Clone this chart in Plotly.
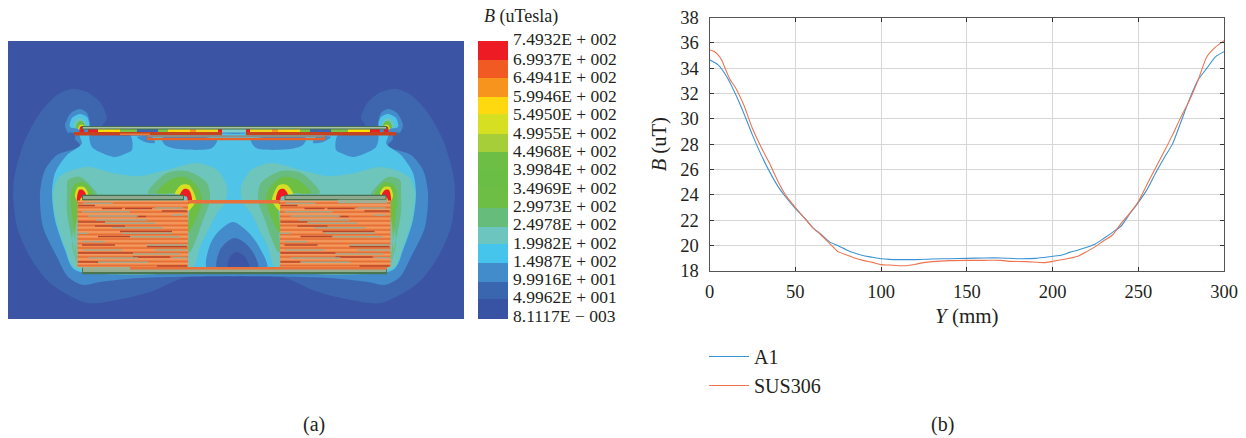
import plotly.graph_objects as go

SERIF = "Liberation Serif"

# ---------- panel (b) data ----------
a1_x = [0,5,10,15,20,25,30,35,40,45,50,55,60,65,70,75,80,85,90,95,100,105,110,120,130,140,150,160,170,180,190,200,205,210,215,220,225,230,235,240,245,250,255,260,265,270,275,280,285,290,295,300]
a1_y = [34.66,34.26,33.34,32.0,30.45,28.74,27.2,25.84,24.66,23.74,22.95,22.24,21.45,20.9,20.3,20.0,19.66,19.4,19.2,19.08,18.97,18.92,18.9,18.9,18.95,18.97,19.0,19.03,19.03,18.97,19.0,19.16,19.24,19.47,19.66,19.87,20.13,20.58,21.05,21.55,22.5,23.4,24.4,25.7,26.9,28.03,29.8,31.6,33.1,34.0,34.9,35.3]
sus_x = [0,3,5,7,10,12,15,20,25,30,35,40,45,50,55,60,65,70,75,80,85,90,95,100,105,110,115,120,125,130,140,150,160,170,175,185,195,200,210,215,220,225,230,235,240,245,250,255,260,265,270,275,280,285,290,295,300]
sus_y = [35.45,35.3,35.05,34.66,33.7,33.1,32.5,31.1,29.26,27.8,26.5,25.05,23.87,23.03,22.24,21.45,20.84,20.18,19.53,19.26,19.0,18.82,18.68,18.5,18.47,18.42,18.42,18.53,18.66,18.74,18.82,18.84,18.84,18.84,18.76,18.74,18.66,18.76,19.0,19.18,19.53,19.92,20.4,20.84,21.76,22.55,23.47,24.8,26.1,27.4,28.74,30.18,31.5,33.1,34.9,35.66,36.18]
x_ticks = [0,50,100,150,200,250,300]
y_ticks = [18,20,22,24,26,28,30,32,34,36,38]

# ---------- colour legend of panel (a) ----------
scale_labels = ["7.4932E + 002","6.9937E + 002","6.4941E + 002","5.9946E + 002","5.4950E + 002","4.9955E + 002","4.4968E + 002","3.9984E + 002","3.4969E + 002","2.9973E + 002","2.4978E + 002","1.9982E + 002","1.4987E + 002","9.9916E + 001","4.9962E + 001","8.1117E \u2212 003"]
scale_label_pos = [39,58.5,76.5,95.5,113.5,132.5,150.5,169,187.5,205.5,224,242.5,261,279,297,315.5]
scale_edges = [41.3,60,78,96.7,114,134,152,170,188,208,226.7,244.3,263,281.7,299.3,318.8]
scale_colors = ["#ED1C24","#F15A22","#F7941D","#FFD90F","#D7DF23","#A6CE39","#6DBE45","#6ABD45","#6DBE45","#65BC7B","#6CC5BF","#45C5EC","#438CCB","#3A66AF","#3953A4"]

# ---------- field regions of panel (a), picture units ----------
C_BG, C_B2, C_B3, C_CY, C_TE, C_GT, C_GR, C_YE, C_RE = "#3B54A4","#3D66AE","#438BCA","#4FC3E8","#6DC5BB","#68BC80","#6CBE45","#D7DF23","#ED1C24"
CENTRE = 234.0

band2_left = [(234,126),(103,126),(107,118),(100,102),(87,92),(72,89),(57,95),(40,113),(25,140),(15,173),(13,193),(17,227),(30,257),(50,283),(87,303),(117,300),(150,292),(187,277),(234,277)]
band3_left = [(234,128),(90,127),(90,123),(87,113),(80,109),(71,113),(65,125),(68,133),(80,145),(77,148),(57,155),(45,170),(40,193),(43,227),(57,257),(68,277),(83,285),(100,282),(140,278),(234,276)]
cyan_left = [(234,134),(80,134),(82,143),(80,146),(67,155),(55,173),(52,193),(55,220),(65,250),(75,270),(234,270)]
teal_left = [(53,193),(58,178),(72,170),(90,167),(113,173),(140,176),(167,170),(197,163),(217,170),(227,187),(225,203),(217,213),(210,227),(200,247),(192,268),(75,268),(65,247),(56,220)]
gt_outer = [(67,193),(68,180),(80,177),(92,187),(97,195),(78,215),(72,243),(77,263),(67,213)]
gt_inner = [(148,193),(167,173),(187,171),(207,183),(210,200),(203,220),(197,237),(190,252),(188,252),(188,195)]
gr_outer = [(71,193),(75,184),(83,182),(90,188),(93,195),(78,215),(75,247),(77,260),(72,213)]
gr_inner = [(157,193),(170,180),(185,177),(198,187),(202,200),(197,217),(188,233),(188,195)]
ye_outer = [(75,196),(78,187),(84,187),(88,194),(79,203)]
ye_inner = [(175,194),(181,185),(189,185),(194,193),(196,201),(188,211),(188,195)]
re_outer = [(77,201),(79,190),(83,190),(86,195),(81,198),(79,203)]
re_inner = [(180,195),(184,189),(189,190),(192,200),(188,204),(187,197)]
arch3 = [(207,268),(210,245),(218,232),(233,222),(248,232),(258,245),(267,268)]
arch2 = [(217,268),(220,250),(228,241),(235,238),(245,243),(254,254),(258,268)]
arch1 = [(228,268),(230,257),(236,252),(245,257),(249,268)]
blob_cy = [(70,127),(72,118),(80,114),(87,117),(89,127)]
blob_te = [(74,127),(76,120),(80,118),(85,121),(86,127)]
blob_gr = [(76,128),(78,122),(82,121),(85,127)]
blob_ye = [(78,129),(80,125),(83,125),(84,130)]
blob_re = [(80,133),(80,127),(83,126),(84,132)]
spot = [(68,133),(74,133),(75,139),(70,140)]
patch_a = [(90,135),(92,147),(102,153),(115,157),(127,153),(132,150),(130,135)]
patch_b = [(137,137),(145,142),(155,143),(152,137)]
patch_c = [(162,138),(165,145),(178,149),(212,148),(217,140)]

# ---------- structure of panel (a): y, x start, x end ----------
coil_left, coil_right = 77.5, 188.0
coil_shift = 202.5
coil_top, coil_bottom = 200.5, 267.0
rows_deep = [203,207.5,212,216.5,221,225.5,230,234.5,239,243.5,248,252.5,257,261.5,265.5]
rows_light = [201.5,205,209.5,214,218.5,223,227.5,232,236.5,241,245.5,250,254.5,259,263.5]
dark_seg = [(205.5,78,95),(208.5,125,152),(208.5,102,122),(211,162,187),(216.5,136,146),(222,78,105),(226,95,125),(231.5,120,172),(236.5,98,130),(245,82,115),(246.5,147,187),(253,78,133),(257,133,170),(262,78,98),(266,157,187)]
grey_seg = [(203.3,83,113),(208,155,183),(211.7,82,130),(215,172,183),(216,88,138),(220,96,147),(223.3,105,155),(227.7,112,163),(233.3,78,88),(233.3,122,172),(236.7,130,180),(241.7,82,105),(245,147,187),(250,83,122),(250,155,187),(254,133,180),(257.7,172,187),(258,88,138),(262.3,98,148)]
gap_seg = [(88,98,"#ED1C24"),(98,120,"#FFE000"),(120,137,"#7DC242"),(137,158,"#3D66AE"),(158,168,"#7DC242"),(168,190,"#FFD90F"),(190,196,"#F7941D"),(196,218,"#F2D51F"),(218,222,"#ED1C24")]

def closed(points):
    return [p[0] for p in points] + [points[0][0]], [p[1] for p in points] + [points[0][1]]

def mirror(points):
    return [(2 * CENTRE - x, y) for x, y in points]

def both_sides(points):
    return points + mirror(points)[::-1]

fig = go.Figure()

def poly(points, color, smooth=0.8):
    xs, ys = closed(points)
    line = dict(width=0, color=color, shape="spline", smoothing=smooth) if smooth else dict(width=0, color=color)
    fig.add_trace(go.Scatter(x=xs, y=ys, xaxis="x2", yaxis="y2", mode="lines", fill="toself", fillcolor=color,
                             line=line, showlegend=False, hoverinfo="skip"))

def strip(y, x0, x1, width, color):
    fig.add_trace(go.Scatter(x=[x0, x1], y=[y, y], xaxis="x2", yaxis="y2", mode="lines",
                             line=dict(width=width, color=color), showlegend=False, hoverinfo="skip"))

def strips(segs, width, color, shift=0.0):
    xs, ys = [], []
    for y, x0, x1 in segs:
        xs += [x0 + shift, x1 + shift, None]
        ys += [y, y, None]
    fig.add_trace(go.Scatter(x=xs, y=ys, xaxis="x2", yaxis="y2", mode="lines",
                             line=dict(width=width, color=color), showlegend=False, hoverinfo="skip"))

# field
poly([(8,41),(464,41),(464,319),(8,319)], C_BG, smooth=0)
poly(both_sides(band2_left), C_B2)
poly(both_sides(band3_left), C_B3)
poly(both_sides(cyan_left), C_CY)
for shape, col in [(spot, C_B2), (patch_a, C_B3), (patch_b, C_B3), (patch_c, C_B3),
                   (teal_left, C_TE), (gt_outer, C_GT), (gt_inner, C_GT), (gr_outer, C_GR), (gr_inner, C_GR),
                   (ye_outer, C_YE), (ye_inner, C_YE), (re_outer, C_RE), (re_inner, C_RE),
                   (blob_cy, C_CY), (blob_te, C_TE), (blob_gr, C_GR), (blob_ye, C_YE), (blob_re, C_RE)]:
    poly(shape, col)
    poly(mirror(shape), col)
poly(arch3, C_B3)
poly(arch2, C_B2)
poly(arch1, C_BG)

# gap band under the top plate
for x0, x1, col in gap_seg:
    strip(130.5, x0, x1, 3.5, col)
    strip(130.5, 2 * CENTRE - x0, 2 * CENTRE - x1, 3.5, col)
strip(130.5, 222, 246, 4, "#7CCFC8")

# top plate, strips
strip(127.8, 82, 387, 3.6, "#44704F")
strip(127.8, 83, 386, 1.4, "#A9BFA6")
strip(133.8, 74, 222, 3.6, "#C5431F")
strip(133.8, 246, 396, 3.6, "#C5431F")
strip(134.2, 120, 150, 1.2, "#F08A4B")
strip(136.2, 147, 325, 1.8, "#8C8F86")
strip(139, 147, 325, 2.4, "#E8622A")
strip(137.5, 147, 148.5, 5, "#E8622A")
strip(137.5, 323.5, 325, 5, "#E8622A")

# coils
for shift in (0.0, coil_shift):
    xs0, xs1 = coil_left + shift, coil_right + shift
    strips([(coil_top + 33.25, xs0, xs1)], 66.5, "#F08A4B")
    strips([(y, xs0, xs1) for y in rows_light], 1.5, "#F49A60")
    strips([(y, xs0, xs1) for y in rows_deep], 1.5, "#E56F38")
    strips(dark_seg, 1.4, "#B5452C", shift)
    strips(grey_seg, 1.5, "#A3A88C", shift)
    strip(197.5, 82 + shift, 184 + shift, 5.5, "#44704F")
    strip(197.5, 83 + shift, 183 + shift, 3, "#8EA98E")
strip(201.8, 188, 280, 3.6, "#E8703A")
strip(201.5, 338, 387, 3.4, "#9DB096")

# base plate
strip(271, 82, 387, 6.5, "#4A7651")
strip(270.2, 83, 386, 3.8, "#93AD90")
strip(268.3, 130, 387, 2.6, "#E8703A")
strip(268.3, 83, 130, 2.6, "#9DB096")

# colour legend bar
fig.add_trace(go.Bar(x=[0] * len(scale_colors), base=scale_edges[:-1],
                     y=[b - a for a, b in zip(scale_edges[:-1], scale_edges[1:])],
                     width=1, marker=dict(color=scale_colors, line=dict(width=0)),
                     xaxis="x3", yaxis="y3", showlegend=False, hoverinfo="skip"))

# panel (b) curves
fig.add_trace(go.Scatter(x=a1_x, y=a1_y, mode="lines", name="A1", legendgroup="a",
                         line=dict(color="#3A94D3", width=1.1, shape="spline", smoothing=0.6), hoverinfo="skip"))
fig.add_trace(go.Scatter(x=sus_x, y=sus_y, mode="lines", name="SUS306", legendgroup="b",
                         line=dict(color="#EE7350", width=1.1, shape="spline", smoothing=0.6), hoverinfo="skip"))

W, H = 1246, 438
axis_font = dict(family=SERIF, size=18.5, color="#231F20")
fig.update_layout(
    width=W, height=H, margin=dict(l=0, r=0, t=0, b=0, autoexpand=False), paper_bgcolor="white", plot_bgcolor="rgba(0,0,0,0)",
    font=dict(family=SERIF, color="#231F20"), bargap=0,
    xaxis=dict(domain=[709.5 / W, 1224 / W], range=[0, 300], tickvals=x_ticks, ticks="inside", ticklen=4,
               tickcolor="#333", showline=True, mirror="ticks", linecolor="#555", linewidth=1.2,
               showgrid=True, gridcolor="#D6D6D6", gridwidth=1, zeroline=False, tickfont=axis_font,
               ticklabelstandoff=4,
               title=dict(text="<i>Y</i> (mm)", font=dict(family=SERIF, size=21), standoff=7)),
    yaxis=dict(domain=[1 - 271 / H, 1 - 17.5 / H], range=[18, 38], tickvals=y_ticks, ticks="inside", ticklen=4,
               tickcolor="#333", showline=True, mirror="ticks", linecolor="#555", linewidth=1.2,
               showgrid=True, gridcolor="#D6D6D6", gridwidth=1, zeroline=False, tickfont=axis_font,
               ticklabelstandoff=6,
               title=dict(text="<i>B</i> (uT)", font=dict(family=SERIF, size=20.5), standoff=8)),
    xaxis2=dict(domain=[0, 1], range=[0, W], visible=False, fixedrange=True),
    yaxis2=dict(domain=[0, 1], range=[H, 0], visible=False, fixedrange=True),
    xaxis3=dict(domain=[478 / W, 508 / W], range=[-0.5, 0.5], visible=False, fixedrange=True),
    yaxis3=dict(domain=[1 - 330 / H, 1 - 30 / H], range=[330, 30], tickvals=scale_label_pos, ticktext=scale_labels,
                side="right", anchor="x3", ticks="", showgrid=False, zeroline=False, showline=False,
                tickfont=dict(family=SERIF, size=17.5, color="#231F20"), ticklabelstandoff=4),
    legend=dict(x=704 / W, y=1 - 337 / H, xanchor="left", yanchor="top", font=dict(family=SERIF, size=20),
                tracegroupgap=0, bgcolor="rgba(0,0,0,0)", itemwidth=40),
    annotations=[
        dict(text="<i>B</i> (uTesla)", x=482 / W, y=1 - 16 / H, xref="paper", yref="paper", xanchor="left", yanchor="middle",
             showarrow=False, font=dict(family=SERIF, size=18)),
        dict(text="(a)", x=314 / W, y=1 - 424 / H, xref="paper", yref="paper", xanchor="center", yanchor="middle",
             showarrow=False, font=dict(family=SERIF, size=20)),
        dict(text="(b)", x=942 / W, y=1 - 424 / H, xref="paper", yref="paper", xanchor="center", yanchor="middle",
             showarrow=False, font=dict(family=SERIF, size=20)),
    ],
)

fig.write_html("out.html", config=dict(displayModeBar=False),
               post_script="document.body.style.margin='0';document.body.style.overflow='hidden';")
